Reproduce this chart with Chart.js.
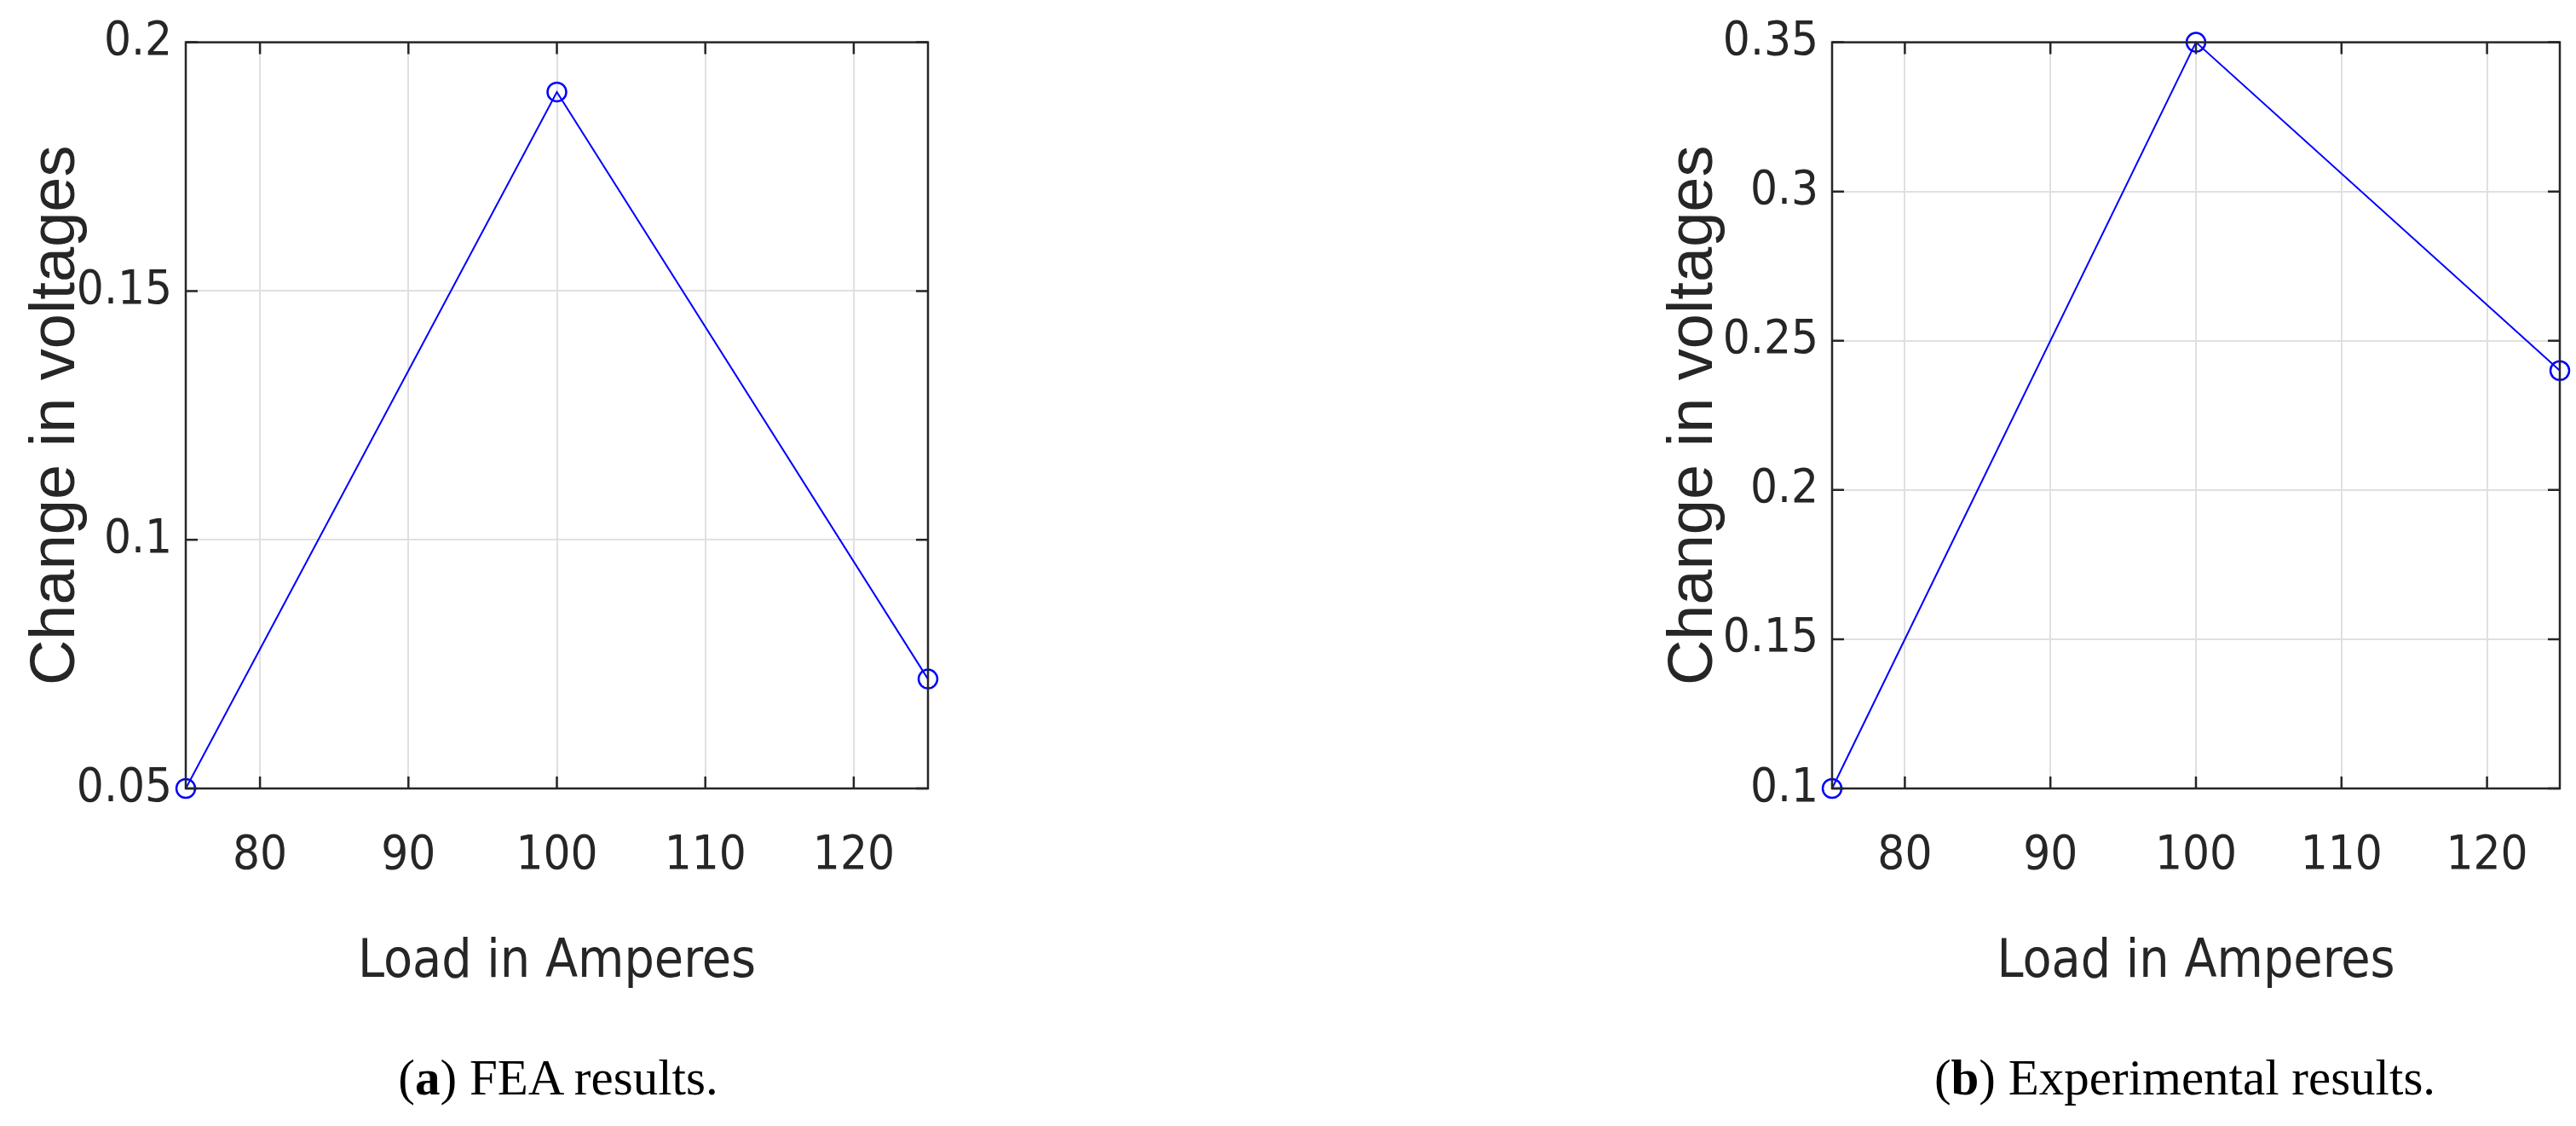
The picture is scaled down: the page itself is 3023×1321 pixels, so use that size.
<!DOCTYPE html>
<html><head><meta charset="utf-8">
<script src="https://cdn.jsdelivr.net/npm/chart.js@4"></script>
<style>
body{margin:0;background:#fff;width:3023px;height:1321px;overflow:hidden;position:relative}
canvas{position:absolute;top:0}
.cap{position:absolute;top:1230px;font-family:'Liberation Serif',serif;font-size:59px;color:#000;transform:translateX(-50%);white-space:nowrap}
</style></head><body>
<div style="position:absolute;left:0;top:0;width:1300px;height:1321px"><canvas id="c1"></canvas></div>
<div style="position:absolute;left:1300px;top:0;width:1723px;height:1321px"><canvas id="c2"></canvas></div>
<div class="cap" style="left:655px">(<b>a</b>) FEA results.</div>
<div class="cap" style="left:2564px">(<b>b</b>) Experimental results.</div>
<script>
const loads = [75, 100, 125];
const feaValues = [0.05, 0.19, 0.072];
const expValues = [0.10, 0.35, 0.24];
const xTicks = [80, 90, 100, 110, 120];
const feaYTicks = [0.05, 0.1, 0.15, 0.2];
const expYTicks = [0.1, 0.15, 0.2, 0.25, 0.3, 0.35];
const feaYLabels = ['0.05','0.1','0.15','0.2'];
const expYLabels = ['0.1','0.15','0.2','0.25','0.3','0.35'];

const FONT = "'DejaVu Sans Condensed','Liberation Sans',Arial,sans-serif";
const boxPlugin = {
  id:'box',
  afterDatasetsDraw(chart){
    const {ctx, chartArea:a, scales} = chart;
    ctx.save();
    ctx.strokeStyle='#262626'; ctx.lineWidth=2.5;
    ctx.strokeRect(a.left,a.top,a.right-a.left,a.bottom-a.top);
    const L=14;
    ctx.beginPath();
    scales.x.ticks.forEach(t=>{const p=scales.x.getPixelForValue(t.value);
      ctx.moveTo(p,a.bottom);ctx.lineTo(p,a.bottom-L);ctx.moveTo(p,a.top);ctx.lineTo(p,a.top+L);});
    scales.y.ticks.forEach(t=>{const p=scales.y.getPixelForValue(t.value);
      ctx.moveTo(a.left,p);ctx.lineTo(a.left+L,p);ctx.moveTo(a.right,p);ctx.lineTo(a.right-L,p);});
    ctx.stroke(); ctx.restore();
  }
};
function make(id, vals, yT, yL, ymin, ymax, pad, yw){
  new Chart(document.getElementById(id),{
    type:'line',
    data:{datasets:[{data:loads.map((x,i)=>({x,y:vals[i]})),borderColor:'#0000ff',borderWidth:2,
      pointRadius:11,pointBorderWidth:2.5,pointBackgroundColor:'rgba(0,0,0,0)',pointBorderColor:'#0000ff',tension:0,clip:false}]},
    options:{responsive:true,maintainAspectRatio:false,animation:false,
      layout:{padding:pad},
      plugins:{legend:{display:false},tooltip:{enabled:false}},
      scales:{
        x:{type:'linear',min:75,max:125,
          afterBuildTicks:s=>{s.ticks=xTicks.map(v=>({value:v}));},
          afterFit:s=>{s.height=246;},
          grid:{color:'#e0e0e0',lineWidth:2,drawTicks:false},border:{display:false},
          ticks:{font:{family:FONT,size:56},color:'#262626',padding:46,maxRotation:0},
          title:{display:true,text:'Load in Amperes',font:{family:FONT,size:62},color:'#262626',padding:{top:4}}},
        y:{min:ymin,max:ymax,
          afterBuildTicks:s=>{s.ticks=yT.map(v=>({value:v}));},
          afterFit:s=>{s.width=yw;},
          grid:{color:'#e0e0e0',lineWidth:2,drawTicks:false},border:{display:false},
          ticks:{font:{family:FONT,size:56},color:'#262626',padding:16,callback:(v)=>{const i=yT.indexOf(v);return i>=0?yL[i]:'';}},
          title:{display:true,text:'Change in voltages',font:{family:"'Liberation Sans',Arial,sans-serif",size:74},color:'#262626',padding:{top:0,bottom:0}}}
      }},
    plugins:[boxPlugin]
  });
}
make('c1',feaValues,feaYTicks,feaYLabels,0.05,0.2,{left:22,top:42,right:211,bottom:150},196);
make('c2',expValues,expYTicks,expYLabels,0.1,0.35,{left:644,top:42,right:19,bottom:150},206);
</script></body></html>
